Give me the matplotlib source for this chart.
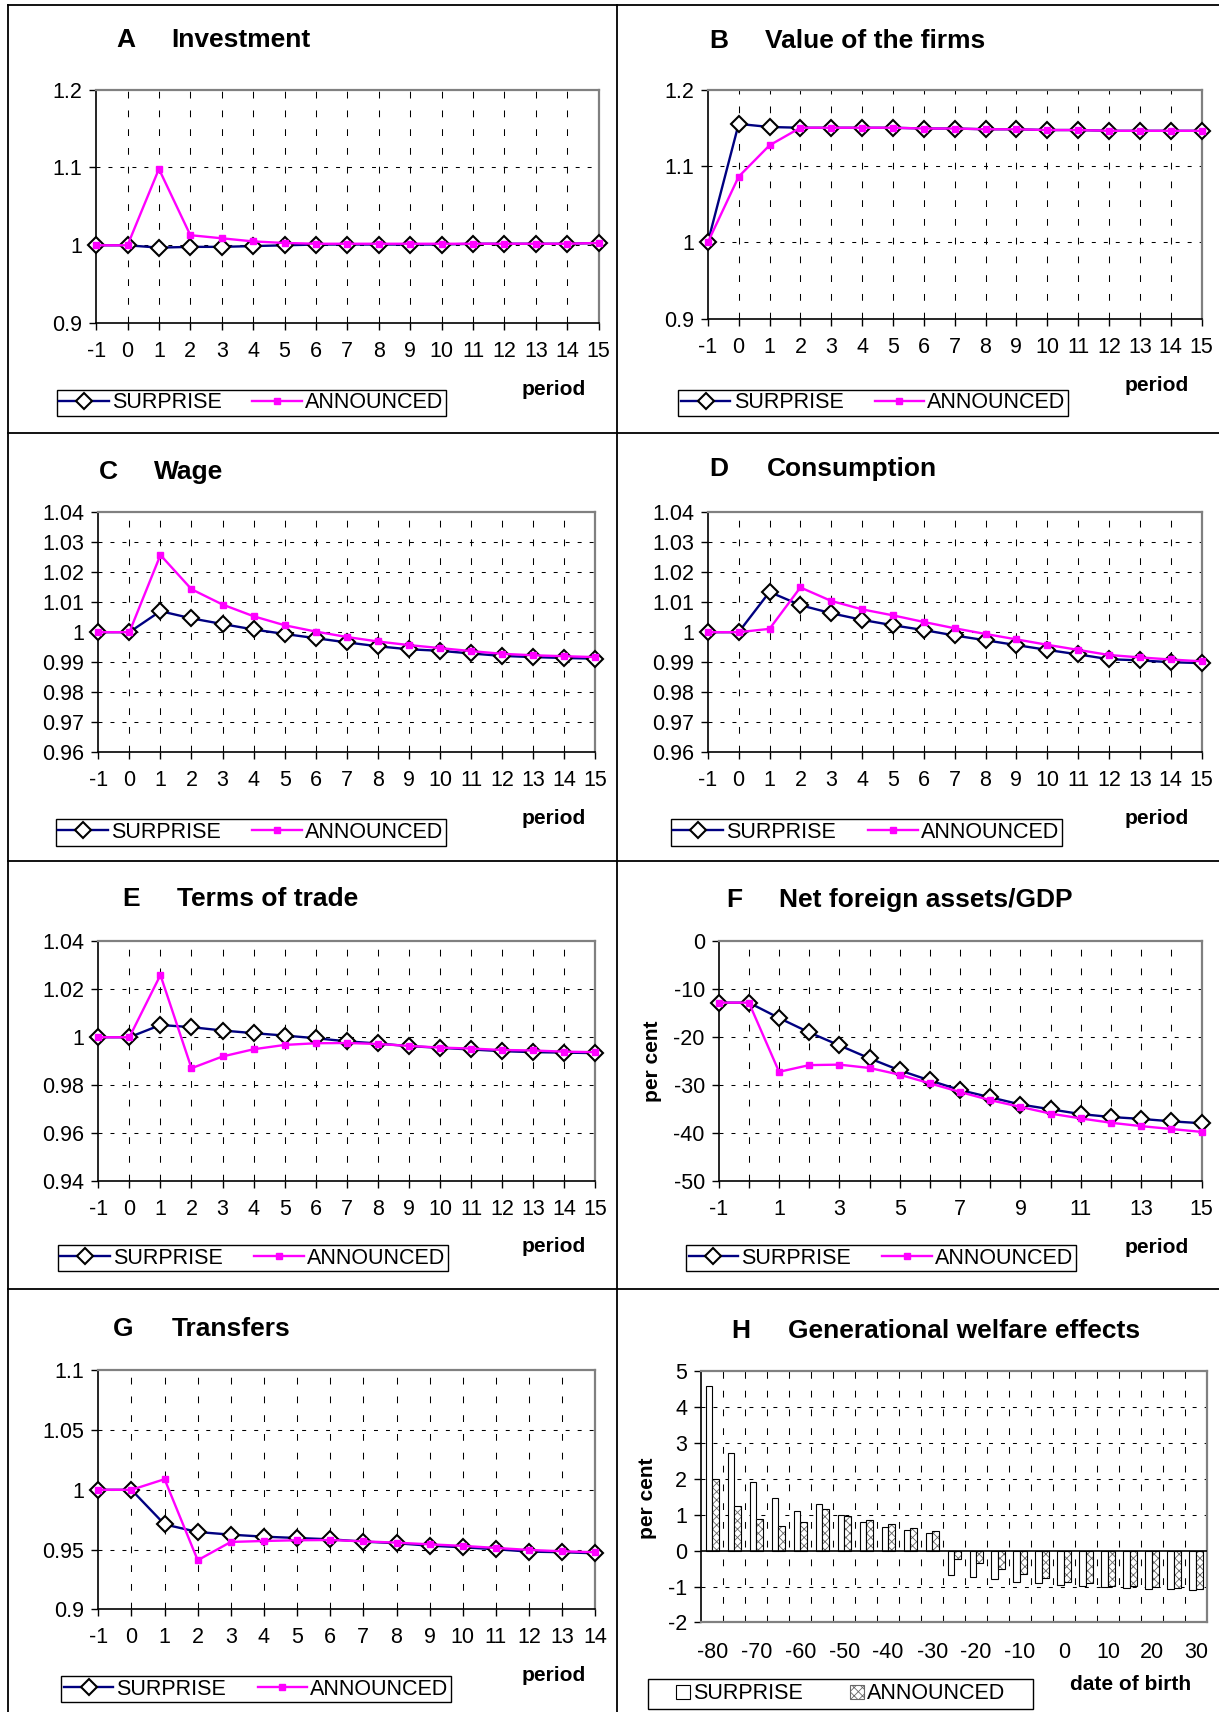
"""Eight-panel simulation figure: surprise vs announced policy paths."""

import matplotlib

matplotlib.use("Agg")
import matplotlib.pyplot as plt
import numpy as np
from matplotlib.lines import Line2D
from matplotlib.patches import Patch, Rectangle

plt.rcParams["font.family"] = ["Liberation Sans", "DejaVu Sans"]
plt.rcParams["axes.unicode_minus"] = False
plt.rcParams["hatch.linewidth"] = 0.6

# ---- data -----------------------------------------------------------------
periods = [-1, 0, 1, 2, 3, 4, 5, 6, 7, 8, 9, 10, 11, 12, 13, 14, 15]
periods_g = [-1, 0, 1, 2, 3, 4, 5, 6, 7, 8, 9, 10, 11, 12, 13, 14]

inv_surprise = [1.000, 1.000, 0.997, 0.998, 0.998, 0.999, 1.000, 1.001, 1.001,
                1.001, 1.001, 1.001, 1.002, 1.002, 1.002, 1.002, 1.003]
inv_announced = [1.000, 1.000, 1.098, 1.013, 1.009, 1.005, 1.003, 1.002, 1.002,
                 1.002, 1.002, 1.002, 1.002, 1.002, 1.002, 1.002, 1.003]

firm_surprise = [1.000, 1.155, 1.151, 1.150, 1.150, 1.150, 1.150, 1.149, 1.149,
                 1.148, 1.148, 1.147, 1.147, 1.146, 1.146, 1.146, 1.146]
firm_announced = [1.000, 1.086, 1.127, 1.150, 1.150, 1.150, 1.150, 1.149, 1.149,
                  1.148, 1.148, 1.147, 1.147, 1.146, 1.146, 1.146, 1.146]

wage_surprise = [1.0, 1.0, 1.0070, 1.0046, 1.0027, 1.0009, 0.9994, 0.9980, 0.9966,
                 0.9953, 0.9943, 0.9938, 0.9929, 0.9921, 0.9917, 0.9914, 0.9912]
wage_announced = [1.0, 1.0, 1.0257, 1.0143, 1.0092, 1.0053, 1.0023, 1.0002, 0.9984,
                  0.9969, 0.9957, 0.9947, 0.9937, 0.9928, 0.9923, 0.9920, 0.9917]

cons_surprise = [1.0, 1.0, 1.0134, 1.0090, 1.0063, 1.0041, 1.0023, 1.0007, 0.9989,
                 0.9973, 0.9957, 0.9941, 0.9926, 0.9910, 0.9906, 0.9900, 0.9897]
cons_announced = [1.0, 1.0, 1.0011, 1.0149, 1.0104, 1.0076, 1.0056, 1.0034, 1.0013,
                  0.9994, 0.9976, 0.9958, 0.9941, 0.9924, 0.9916, 0.9909, 0.9903]

tot_surprise = [1.0, 1.0, 1.0051, 1.0042, 1.0028, 1.0017, 1.0007, 0.9996, 0.9983,
                0.9974, 0.9963, 0.9956, 0.9949, 0.9942, 0.9938, 0.9936, 0.9934]
tot_announced = [1.0, 1.0, 1.0259, 0.9871, 0.9920, 0.9950, 0.9968, 0.9975, 0.9976,
                 0.9972, 0.9964, 0.9957, 0.9953, 0.9947, 0.9945, 0.9940, 0.9938]

nfa_surprise = [-12.8, -12.8, -16.0, -19.0, -21.7, -24.4, -26.9, -29.0, -31.0,
                -32.5, -34.0, -35.0, -36.0, -36.6, -37.0, -37.5, -37.9]
nfa_announced = [-12.8, -12.8, -27.2, -25.8, -25.7, -26.4, -27.8, -29.6, -31.4,
                 -33.1, -34.5, -35.9, -36.9, -37.8, -38.5, -39.1, -39.7]

transfer_surprise = [1.0, 1.0, 0.9711, 0.9647, 0.9625, 0.9608, 0.9597, 0.9586,
                     0.9567, 0.9553, 0.9533, 0.9519, 0.9503, 0.9483, 0.9478, 0.9469]
transfer_announced = [1.0, 1.0, 1.0089, 0.9411, 0.9564, 0.9572, 0.9578, 0.9580,
                      0.9569, 0.9558, 0.9544, 0.9531, 0.9514, 0.9497, 0.9486, 0.9478]

birth_dates = [-80, -75, -70, -65, -60, -55, -50, -45, -40, -35, -30, -25,
               -20, -15, -10, -5, 0, 5, 10, 15, 20, 25, 30]
welfare_surprise = [4.58, 2.72, 1.91, 1.48, 1.11, 1.31, 0.99, 0.79, 0.66, 0.58,
                    0.50, -0.68, -0.74, -0.80, -0.86, -0.89, -0.96, -0.99, -1.02,
                    -1.04, -1.06, -1.08, -1.09]
welfare_announced = [2.00, 1.24, 0.88, 0.68, 0.80, 1.15, 0.97, 0.86, 0.74, 0.64,
                     0.54, -0.24, -0.35, -0.51, -0.66, -0.75, -0.86, -0.91, -0.97,
                     -0.99, -1.02, -1.05, -1.07]

# tick labels
ticks_a = [0.9, 1.0, 1.1, 1.2]
labels_a = ["0.9", "1", "1.1", "1.2"]
ticks_c = [0.96, 0.97, 0.98, 0.99, 1.0, 1.01, 1.02, 1.03, 1.04]
labels_c = ["0.96", "0.97", "0.98", "0.99", "1", "1.01", "1.02", "1.03", "1.04"]
ticks_e = [0.94, 0.96, 0.98, 1.0, 1.02, 1.04]
labels_e = ["0.94", "0.96", "0.98", "1", "1.02", "1.04"]
ticks_f = [-50, -40, -30, -20, -10, 0]
labels_f = ["-50", "-40", "-30", "-20", "-10", "0"]
ticks_g = [0.9, 0.95, 1.0, 1.05, 1.1]
labels_g = ["0.9", "0.95", "1", "1.05", "1.1"]
ticks_h = [-2, -1, 0, 1, 2, 3, 4, 5]
labels_h = ["-2", "-1", "0", "1", "2", "3", "4", "5"]

NAVY = "#000080"
MAGENTA = "#FF00FF"
BORDER = "#808080"
TICK_SIZE = 15.5
LEGEND_SIZE = 15.5

# layout is measured on a 1116x1568 copy of the page
W, H = 1116.0, 1568.0


def box(x0, y0, x1, y1):
    return [x0 / W, 1 - y1 / H, (x1 - x0) / W, (y1 - y0) / H]


def fx(x):
    return x / W


def fy(y):
    return 1 - y / H


H_DASH = (0, (3.8, 7.7))
V_DASH = (0, (6.5, 11.5))


def style_axes(ax):
    for s in ("top", "right"):
        ax.spines[s].set_color(BORDER)
        ax.spines[s].set_linewidth(1.6)
    for s in ("left", "bottom"):
        ax.spines[s].set_color("black")
        ax.spines[s].set_linewidth(1.2)
    ax.tick_params(axis="both", direction="out", length=5, width=1.0,
                   labelsize=TICK_SIZE, color="black")
    ax.tick_params(axis="x", pad=8)
    ax.tick_params(axis="y", pad=5)


def titles(fig, letter, title, lx, tx, ty):
    fig.text(fx(lx), fy(ty), letter, ha="center", va="center",
             fontsize=19, fontweight="bold")
    fig.text(fx(tx), fy(ty), title, ha="left", va="center",
             fontsize=19, fontweight="bold")


def line_panel(fig, rect, x, surprise, announced, yticks, ylabels,
               xlabels, letter, title, lx, tx, ty, legend_rect, period_xy):
    ax = fig.add_axes(box(*rect))
    for yv in yticks[1:-1]:
        ax.axhline(yv, color="black", lw=0.75, ls=H_DASH, zorder=1)
    for xv in x[1:-1]:
        ax.axvline(xv, color="black", lw=0.75, ls=V_DASH, zorder=1)
    ax.plot(x, surprise, color=NAVY, lw=1.7, marker="D", ms=7.8,
            mfc="white", mec="black", mew=1.5, clip_on=False, zorder=4)
    ax.plot(x, announced, color=MAGENTA, lw=1.7, marker="s", ms=4.5,
            mfc=MAGENTA, mec=MAGENTA, clip_on=False, zorder=5)
    ax.set_xlim(x[0], x[-1])
    ax.set_ylim(yticks[0], yticks[-1])
    ax.set_xticks(x)
    ax.set_xticklabels(xlabels)
    ax.set_yticks(yticks)
    ax.set_yticklabels(ylabels)
    style_axes(ax)
    titles(fig, letter, title, lx, tx, ty)

    handles = [
        Line2D([], [], color=NAVY, lw=1.7, marker="D", ms=7.8, mfc="white",
               mec="black", mew=1.5),
        Line2D([], [], color=MAGENTA, lw=1.7, marker="s", ms=4.5,
               mfc=MAGENTA, mec=MAGENTA),
    ]
    x0, y0, x1, y1 = legend_rect
    leg = fig.legend(handles, ["SURPRISE", "ANNOUNCED"], loc="center",
                     bbox_to_anchor=(fx(x0), fy(y1), (x1 - x0) / W,
                                     (y1 - y0) / H),
                     bbox_transform=fig.transFigure, mode="expand", ncol=2,
                     fontsize=LEGEND_SIZE, frameon=True, fancybox=False,
                     edgecolor="black", framealpha=1, borderpad=0.12,
                     handlelength=2.3, handletextpad=0.15,
                     columnspacing=0.8, borderaxespad=0)
    leg.get_frame().set_linewidth(1.0)
    fig.text(fx(period_xy[0]), fy(period_xy[1]), "period", ha="center",
             va="center", fontsize=15, fontweight="bold")
    return ax


def welfare_panel(fig, rect):
    ax = fig.add_axes(box(*rect))
    cats = np.arange(len(birth_dates))
    for yv in ticks_h[1:-1]:
        if yv != 0:
            ax.axhline(yv, color="black", lw=0.75, ls=H_DASH, zorder=1)
    for xv in cats[:-1] + 0.5:
        ax.axvline(xv, color="black", lw=0.75, ls=V_DASH, zorder=1)
    ax.bar(cats - 0.15, welfare_surprise, width=0.3, color="white",
           edgecolor="black", lw=0.8, zorder=3)
    ax.bar(cats + 0.15, welfare_announced, width=0.3, color="white",
           edgecolor="#666666", hatch="xxxx", lw=0, zorder=3)
    ax.bar(cats + 0.15, welfare_announced, width=0.3, fill=False,
           edgecolor="black", lw=0.8, zorder=4)
    ax.axhline(0, color="black", lw=1.2, zorder=5)
    ax.set_xlim(-0.5, len(birth_dates) - 0.5)
    ax.set_ylim(ticks_h[0], ticks_h[-1])
    ax.set_xticks(cats[::2])
    ax.set_xticklabels([str(b) for b in birth_dates[::2]])
    ax.set_yticks(ticks_h)
    ax.set_yticklabels(labels_h)
    style_axes(ax)
    ax.spines["bottom"].set_color(BORDER)
    ax.spines["bottom"].set_linewidth(1.6)
    ax.tick_params(axis="x", length=0, pad=14)
    titles(fig, "H", "Generational welfare effects", 678, 721, 1219)

    # legend frame drawn by hand, entries centred inside it
    fig.add_artist(Rectangle((fx(593), fy(1565)), 353 / W, 27 / H,
                             transform=fig.transFigure, fill=False,
                             edgecolor="black", lw=1.0))
    handles = [
        Patch(facecolor="white", edgecolor="black", lw=0.8),
        Patch(facecolor="white", edgecolor="#666666", hatch="xxxx", lw=0.8),
    ]
    fig.legend(handles, ["SURPRISE", "ANNOUNCED"], loc="center",
               bbox_to_anchor=(fx(769.5), fy(1551.5)),
               bbox_transform=fig.transFigure, ncol=2,
               fontsize=LEGEND_SIZE, frameon=False, borderpad=0,
               handlelength=0.65, handleheight=0.65, handletextpad=0.15,
               columnspacing=2.2, borderaxespad=0)
    fig.text(fx(1035), fy(1543), "date of birth", ha="center", va="center",
             fontsize=15, fontweight="bold")
    fig.text(fx(593), fy(1372), "per cent", ha="center", va="center",
             rotation=90, fontsize=15, fontweight="bold")
    return ax


def draw_cells(fig):
    kw = dict(transform=fig.transFigure, color="black", lw=1.3)
    fig.add_artist(Line2D([fx(7), fx(7)], [fy(5), 0], **kw))
    fig.add_artist(Line2D([fx(565), fx(565)], [fy(5), 0], **kw))
    for y in (5, 397, 789, 1181):
        fig.add_artist(Line2D([fx(7), 1], [fy(y), fy(y)], **kw))


fig = plt.figure(figsize=(12.19, 17.12), dpi=100)

str_periods = [str(p) for p in periods]
str_periods_g = [str(p) for p in periods_g]
# panel F only labels every other period
str_periods_f = [str(p) if p % 2 else "" for p in periods]

line_panel(fig, (88, 82, 548, 296), periods, inv_surprise, inv_announced,
           ticks_a, labels_a, str_periods, "A", "Investment", 115, 157, 37,
           (52, 356, 408, 382), (507, 357))
line_panel(fig, (648, 82, 1100, 292), periods, firm_surprise, firm_announced,
           ticks_a, labels_a, str_periods, "B", "Value of the firms",
           658, 700, 38, (621, 356, 978, 382), (1059, 353))
line_panel(fig, (90, 469, 545, 689), periods, wage_surprise, wage_announced,
           ticks_c, labels_c, str_periods, "C", "Wage", 99, 141, 432,
           (51, 750, 408, 775), (507, 750))
line_panel(fig, (648, 469, 1100, 689), periods, cons_surprise, cons_announced,
           ticks_c, labels_c, str_periods, "D", "Consumption", 658, 702, 430,
           (614, 750, 972, 775), (1059, 750))
line_panel(fig, (90, 862, 545, 1082), periods, tot_surprise, tot_announced,
           ticks_e, labels_e, str_periods, "E", "Terms of trade", 120, 162, 823,
           (53, 1140, 410, 1165), (507, 1142))
line_panel(fig, (658, 862, 1100, 1082), periods, nfa_surprise, nfa_announced,
           ticks_f, labels_f, str_periods_f, "F", "Net foreign assets/GDP",
           672, 713, 824, (628, 1140, 985, 1165), (1059, 1143))
fig.text(fx(597), fy(972), "per cent", ha="center", va="center",
         rotation=90, fontsize=15, fontweight="bold")
line_panel(fig, (90, 1255, 545, 1474), periods_g, transfer_surprise,
           transfer_announced, ticks_g, labels_g, str_periods_g, "G",
           "Transfers", 113, 157, 1217, (56, 1534, 413, 1560), (507, 1535))
welfare_panel(fig, (642, 1256, 1105, 1486))

draw_cells(fig)

fig.savefig("out.png", dpi=100)
